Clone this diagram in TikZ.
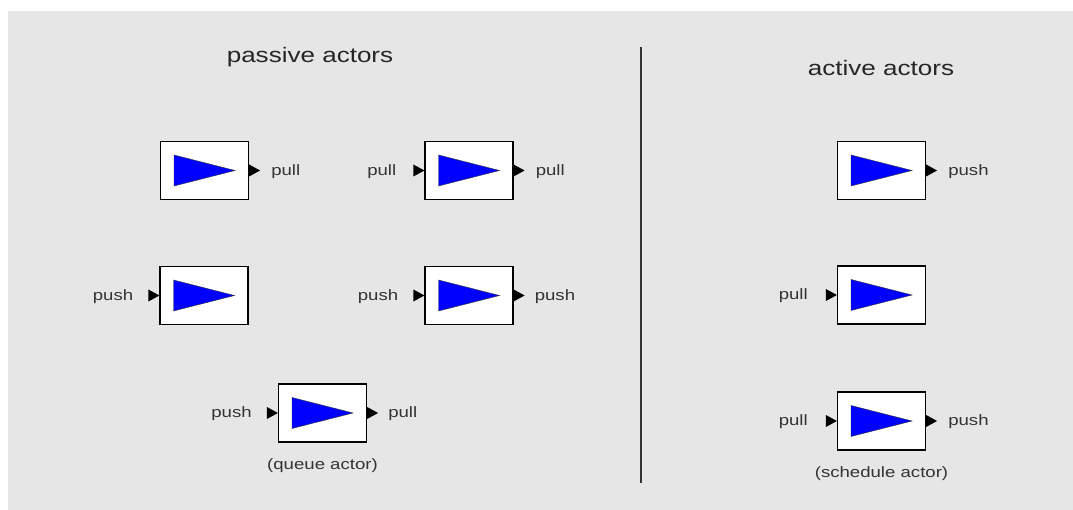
\documentclass[tikz,border=0pt]{standalone}
\usepackage{fontspec}
\setmainfont{Liberation Sans}[FakeStretch=1.24]
\usetikzlibrary{positioning}
\definecolor{panel}{RGB}{230,230,230}
\definecolor{labelgray}{RGB}{51,51,51}
\begin{document}
\begin{tikzpicture}[x=1pt,y=-1pt,
  actor/.style={draw=black,fill=white,line width=1.2pt,inner sep=0pt,
    minimum width=88pt,minimum height=58pt},
  wedge/.style={fill=blue,draw=black!80,line width=0.4pt},
  port/.style={fill=black},
  lbl/.style={inner sep=0pt,text=labelgray,font=\fontsize{15}{17}\selectfont},
  title/.style={inner sep=0pt,text=black!85,font=\fontsize{21}{25}\selectfont}]
\useasboundingbox (0,0) rectangle (1073,510);
\fill[panel] (8,11) rectangle (1073,510);

% titles and divider
\node[title] (passive) at (310,57) {passive actors};
\node[title] (active) at (881,68) {active actors};
\coordinate (divtop) at (641,47);
\coordinate (divbot) at (641,483);
\draw[labelgray,line width=1.2pt] (divtop)--(divbot);

% passive actors
\node[actor] (pa1) at (204.5,170.5) {};
\node[actor] (pa2) at (469,170.5) {};
\node[actor] (pa3) at (204,295.5) {};
\node[actor] (pa4) at (469,295.5) {};
\node[actor] (pa5) at (322.5,413) {};
% active actors
\node[actor] (ac1) at (881.5,170.5) {};
\node[actor] (ac2) at (881.5,295) {};
\node[actor] (ac3) at (881.5,421) {};

\foreach \a in {pa1,pa2,pa3,pa4,pa5,ac1,ac2,ac3}
  \filldraw[wedge] (\a.center) ++(-30.5,-15.5) -- ++(61,15.5) -- ++(-61,15.5) -- cycle;

% output ports
\foreach \a in {pa1,pa2,pa4,pa5,ac1,ac3}
  \fill[port] (\a.east) ++(0,-6) -- ++(11,6) -- ++(-11,6) -- cycle;
% input ports
\foreach \a in {pa2,pa3,pa4,pa5,ac2,ac3}
  \fill[port] (\a.west) ++(-11,-6) -- ++(11,6) -- ++(-11,6) -- cycle;

\node[lbl,right=22pt of pa1,yshift=-1pt] (pa1out) {pull};
\node[lbl,left=28pt of pa2,yshift=-1pt] (pa2in) {pull};
\node[lbl,right=22pt of pa2,yshift=-1pt] (pa2out) {pull};
\node[lbl,left=26pt of pa3,yshift=-1pt] (pa3in) {push};
\node[lbl,left=26pt of pa4,yshift=-1pt] (pa4in) {push};
\node[lbl,right=21pt of pa4,yshift=-1pt] (pa4out) {push};
\node[lbl,left=26pt of pa5,yshift=-1pt] (pa5in) {push};
\node[lbl,right=21pt of pa5,yshift=-1pt] (pa5out) {pull};
\node[lbl,below=16pt of pa5] (queue) {(queue actor)};

\node[lbl,right=22pt of ac1,yshift=-1pt] (ac1out) {push};
\node[lbl,left=29pt of ac2,yshift=-1pt] (ac2in) {pull};
\node[lbl,left=29pt of ac3,yshift=-1pt] (ac3in) {pull};
\node[lbl,right=22pt of ac3,yshift=-1pt] (ac3out) {push};
\node[lbl,below=16pt of ac3] (sched) {(schedule actor)};
\end{tikzpicture}
\end{document}
